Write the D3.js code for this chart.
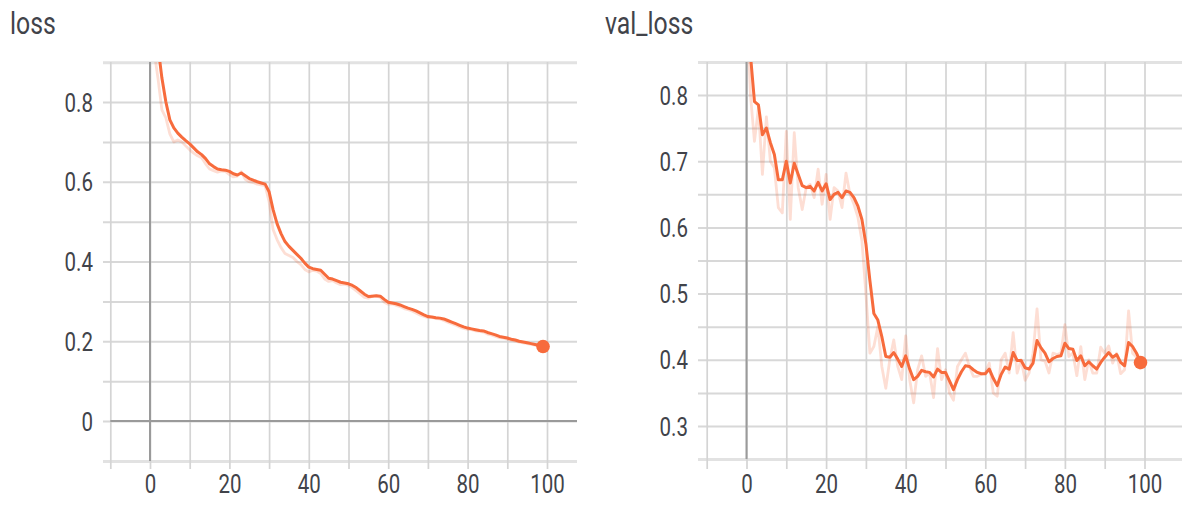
<!DOCTYPE html>
<html>
<head>
<meta charset="utf-8">
<script src="https://cdn.jsdelivr.net/npm/d3@7"></script>
<style>
  html, body { margin: 0; padding: 0; background: #fff; }
  svg { display: block; }
  text { font-family: Roboto, "Noto Sans", sans-serif; fill: #41434a; }
</style>
</head>
<body>
<svg id="chart" width="1182" height="509"></svg>
<script>
// Training loss per epoch (0..99): smoothed curve and raw values
const lossSmoothed = [
  1.15, 1.02, 0.94, 0.86, 0.80, 0.755, 0.735, 0.722, 0.712, 0.703,
  0.695, 0.685, 0.675, 0.668, 0.658, 0.645, 0.638, 0.632, 0.630, 0.629,
  0.626, 0.620, 0.617, 0.622, 0.615, 0.608, 0.604, 0.600, 0.597, 0.594,
  0.575, 0.530, 0.495, 0.470, 0.450, 0.438, 0.428, 0.418, 0.408, 0.396,
  0.386, 0.382, 0.380, 0.378, 0.368, 0.358, 0.356, 0.352, 0.348, 0.346,
  0.344, 0.340, 0.334, 0.326, 0.318, 0.312, 0.313, 0.314, 0.313, 0.305,
  0.298, 0.296, 0.294, 0.291, 0.287, 0.283, 0.280, 0.276, 0.271, 0.266,
  0.262, 0.261, 0.259, 0.258, 0.256, 0.252, 0.248, 0.244, 0.240, 0.236,
  0.233, 0.231, 0.229, 0.227, 0.226, 0.222, 0.219, 0.216, 0.212, 0.210,
  0.208, 0.205, 0.203, 0.200, 0.198, 0.196, 0.194, 0.192, 0.190, 0.187
];
const lossRaw = [
  1.15, 0.93, 0.86, 0.78, 0.76, 0.72, 0.70, 0.705, 0.70, 0.69,
  0.68, 0.672, 0.665, 0.66, 0.645, 0.632, 0.628, 0.624, 0.627, 0.626,
  0.618, 0.612, 0.614, 0.625, 0.606, 0.600, 0.598, 0.594, 0.592, 0.590,
  0.55, 0.48, 0.455, 0.435, 0.420, 0.415, 0.410, 0.400, 0.392, 0.380,
  0.374, 0.378, 0.376, 0.370, 0.356, 0.350, 0.352, 0.346, 0.342, 0.343,
  0.340, 0.334, 0.326, 0.318, 0.310, 0.308, 0.314, 0.314, 0.310, 0.298,
  0.293, 0.294, 0.290, 0.287, 0.282, 0.279, 0.276, 0.271, 0.266, 0.262,
  0.259, 0.260, 0.257, 0.256, 0.252, 0.248, 0.244, 0.240, 0.236, 0.232,
  0.230, 0.229, 0.226, 0.225, 0.223, 0.218, 0.216, 0.212, 0.209, 0.208,
  0.205, 0.203, 0.200, 0.198, 0.196, 0.194, 0.192, 0.190, 0.188, 0.185
];

// Validation loss per epoch (0..99): smoothed curve and raw values
const valLossSmoothed = [
  0.95, 0.86, 0.79, 0.785, 0.74, 0.75, 0.728, 0.71, 0.672, 0.672,
  0.70, 0.667, 0.697, 0.68, 0.663, 0.66, 0.662, 0.655, 0.668, 0.655,
  0.666, 0.642, 0.65, 0.653, 0.645, 0.655, 0.653, 0.645, 0.632, 0.612,
  0.575, 0.52, 0.47, 0.46, 0.435, 0.405, 0.404, 0.411, 0.401, 0.39,
  0.406, 0.386, 0.37, 0.375, 0.384, 0.382, 0.381, 0.374, 0.386, 0.381,
  0.381, 0.368, 0.355, 0.37, 0.382, 0.391, 0.39, 0.385, 0.381, 0.379,
  0.379, 0.386, 0.372, 0.361, 0.378, 0.389, 0.386, 0.411, 0.399, 0.399,
  0.388, 0.386, 0.395, 0.429, 0.418, 0.41, 0.397, 0.402, 0.405, 0.406,
  0.425, 0.417, 0.416, 0.399, 0.406, 0.391, 0.397, 0.391, 0.386, 0.396,
  0.404, 0.411, 0.404, 0.408, 0.396, 0.391, 0.426, 0.42, 0.41, 0.396
];
const valLossRaw = [
  0.95, 0.80, 0.73, 0.78, 0.68, 0.767, 0.70, 0.69, 0.63, 0.622,
  0.745, 0.612, 0.743, 0.66, 0.627, 0.66, 0.665, 0.645, 0.688, 0.635,
  0.68, 0.612, 0.66, 0.655, 0.63, 0.682, 0.65, 0.635, 0.615, 0.58,
  0.50, 0.41, 0.42, 0.45, 0.39, 0.357, 0.40, 0.43, 0.39, 0.37,
  0.436, 0.37, 0.335, 0.385, 0.406, 0.375, 0.38, 0.343, 0.417, 0.37,
  0.385, 0.35, 0.339, 0.39, 0.40, 0.41, 0.39, 0.375, 0.375, 0.378,
  0.38, 0.395, 0.35, 0.345, 0.40, 0.41, 0.38, 0.441, 0.38, 0.40,
  0.369, 0.38, 0.41, 0.477, 0.40, 0.398, 0.38, 0.41, 0.408, 0.41,
  0.453, 0.405, 0.41, 0.376, 0.42, 0.37, 0.40, 0.38, 0.38, 0.419,
  0.41, 0.421, 0.395, 0.41, 0.379, 0.385, 0.474, 0.41, 0.404, 0.385
];

// Axis ticks (grid every step, labels on a subset)
const lossXGrid = [-10, 0, 10, 20, 30, 40, 50, 60, 70, 80, 90, 100];
const lossXLabels = [0, 20, 40, 60, 80, 100];
const lossYGrid = [-0.1, 0, 0.1, 0.2, 0.3, 0.4, 0.5, 0.6, 0.7, 0.8, 0.9];
const lossYLabels = [0, 0.2, 0.4, 0.6, 0.8];

const valXGrid = [-10, 0, 10, 20, 30, 40, 50, 60, 70, 80, 90, 100];
const valXLabels = [0, 20, 40, 60, 80, 100];
const valYGrid = [0.25, 0.3, 0.35, 0.4, 0.45, 0.5, 0.55, 0.6, 0.65, 0.7, 0.75, 0.8, 0.85];
const valYLabels = [0.3, 0.4, 0.5, 0.6, 0.7, 0.8];

const LINE_COLOR = "#f76b3c";
const TEXT_SQUEEZE = 0.82;

const svg = d3.select("#chart");

function drawPanel(cfg) {
  const g = svg.append("g");
  const top = cfg.plotTop, bottom = cfg.plotBottom;

  // x: epoch -> px, y: loss -> px
  const x = d3.scaleLinear().domain([0, 100]).range([cfg.x0, cfg.x100]);
  const y = d3.scaleLinear().domain(cfg.yRef).range(cfg.yRefPx);

  const left = cfg.gridLeft, right = cfg.gridRight;

  // horizontal grid lines
  const yAxis = d3.axisLeft(y)
    .tickValues(cfg.yGrid)
    .tickSize(-(right - left))
    .tickFormat(v => cfg.yLabels.some(l => Math.abs(l - v) < 1e-9) ? d3.format("")(v) : "");
  const gy = g.append("g").attr("transform", `translate(${left},0)`).call(yAxis);
  gy.select(".domain").remove();
  gy.selectAll(".tick line")
    .attr("stroke", (d, i, n) => (i === 0 || i === n.length - 1) ? "#e2e2e2" : "#d8d8d8")
    .attr("stroke-width", (d, i, n) => (i === 0 || i === n.length - 1) ? 3 : 2);
  gy.selectAll(".tick text")
    .attr("x", -10 / TEXT_SQUEEZE)
    .attr("dy", "0.36em")
    .attr("transform", `scale(${TEXT_SQUEEZE},1)`)
    .style("font-size", "25px")
    .style("font-family", "Roboto, sans-serif")
    .attr("fill", "#41434a");

  // vertical grid lines with tick extension below the plot
  const xAxis = d3.axisBottom(x)
    .tickValues(cfg.xGrid)
    .tickSize(-(cfg.tickBottom - top))
    .tickPadding(0)
    .tickFormat(v => cfg.xLabels.includes(v) ? String(v) : "");
  const gx = g.append("g").attr("transform", `translate(0,${cfg.tickBottom})`).call(xAxis);
  gx.select(".domain").remove();
  gx.selectAll(".tick line").attr("stroke", "#d4d4d4").attr("stroke-width", 1.7);
  gx.selectAll(".tick text")
    .attr("x", 0)
    .attr("y", 24)
    .attr("dy", "0")
    .attr("transform", `scale(${TEXT_SQUEEZE},1)`)
    .style("font-size", "25px")
    .style("font-family", "Roboto, sans-serif")
    .attr("fill", "#41434a");

  // zero lines
  g.append("line")
    .attr("x1", x(0)).attr("x2", x(0))
    .attr("y1", top).attr("y2", bottom)
    .attr("stroke", "#9a9a9a").attr("stroke-width", 2);
  if (cfg.yRef[0] <= 0 && y(0) >= top && y(0) <= bottom) {
    g.append("line")
      .attr("x1", x(-10)).attr("x2", right)
      .attr("y1", y(0)).attr("y2", y(0))
      .attr("stroke", "#9a9a9a").attr("stroke-width", 2.2);
  }

  // clip the curves to the plot area
  const clipId = cfg.id + "-clip";
  svg.append("clipPath").attr("id", clipId)
    .append("rect")
    .attr("x", left).attr("y", top)
    .attr("width", right - left).attr("height", bottom - top);

  const line = d3.line()
    .x((d, i) => x(i))
    .y(d => y(d));

  const curves = g.append("g").attr("clip-path", `url(#${clipId})`);
  curves.append("path")
    .datum(cfg.raw)
    .attr("d", line)
    .attr("fill", "none")
    .attr("stroke", LINE_COLOR)
    .attr("stroke-opacity", 0.22)
    .attr("stroke-width", 2.8)
    .attr("stroke-linejoin", "round");
  curves.append("path")
    .datum(cfg.smoothed)
    .attr("d", line)
    .attr("fill", "none")
    .attr("stroke", LINE_COLOR)
    .attr("stroke-width", 3)
    .attr("stroke-linejoin", "round");

  const last = cfg.smoothed.length - 1;
  g.append("circle")
    .attr("cx", x(last)).attr("cy", y(cfg.smoothed[last]))
    .attr("r", 6.8)
    .attr("fill", LINE_COLOR);

  // title
  svg.append("text")
    .attr("transform", `translate(${cfg.titleX},34) scale(0.8,1)`)
    .style("font-size", "31px")
    .text(cfg.title);
}

drawPanel({
  id: "loss", title: "loss", titleX: 10,
  raw: lossRaw, smoothed: lossSmoothed,
  x0: 150, x100: 547,
  yRef: [0, 0.8], yRefPx: [421, 102],
  plotTop: 62, plotBottom: 461, tickBottom: 469,
  gridLeft: 103, gridRight: 577,
  xGrid: lossXGrid, xLabels: lossXLabels,
  yGrid: lossYGrid, yLabels: lossYLabels
});

drawPanel({
  id: "val", title: "val_loss", titleX: 605,
  raw: valLossRaw, smoothed: valLossSmoothed,
  x0: 746.5, x100: 1144.5,
  yRef: [0.3, 0.8], yRefPx: [426, 95],
  plotTop: 62, plotBottom: 459, tickBottom: 469,
  gridLeft: 698, gridRight: 1182,
  xGrid: valXGrid, xLabels: valXLabels,
  yGrid: valYGrid, yLabels: valYLabels
});
</script>
</body>
</html>
